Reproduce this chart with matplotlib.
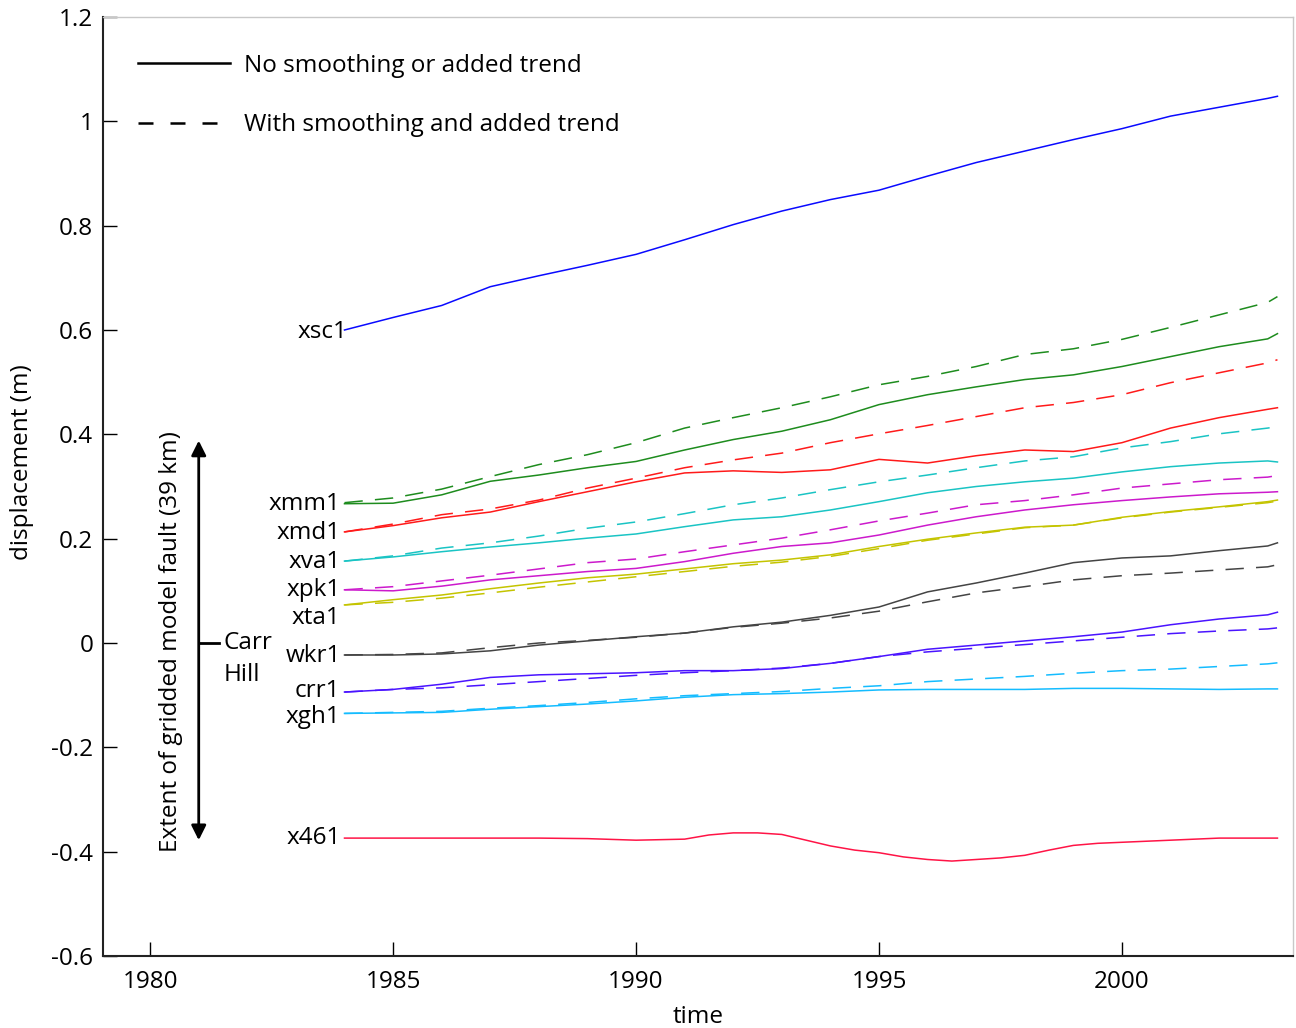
import matplotlib
matplotlib.use("Agg")
import matplotlib.pyplot as plt
from matplotlib.lines import Line2D

plt.rcParams['font.family'] = ['Open Sans', 'DejaVu Sans']

years = [1984, 1985, 1986, 1987, 1988, 1989, 1990, 1991, 1992, 1993, 1994,
         1995, 1996, 1997, 1998, 1999, 2000, 2001, 2002, 2003, 2003.2]

xsc1 = [0.600, 0.624, 0.647, 0.683, 0.704, 0.724, 0.745, 0.773, 0.802, 0.828, 0.850,
        0.868, 0.895, 0.921, 0.943, 0.965, 0.986, 1.010, 1.027, 1.044, 1.048]

xmm1_raw = [0.267, 0.268, 0.284, 0.310, 0.322, 0.336, 0.348, 0.370, 0.390, 0.406, 0.428,
            0.457, 0.476, 0.491, 0.505, 0.514, 0.530, 0.549, 0.568, 0.583, 0.593]
xmm1_smooth = [0.269, 0.278, 0.295, 0.319, 0.342, 0.361, 0.384, 0.412, 0.432, 0.451, 0.472,
               0.495, 0.511, 0.530, 0.553, 0.564, 0.582, 0.605, 0.629, 0.653, 0.664]

xmd1_raw = [0.213, 0.225, 0.240, 0.251, 0.271, 0.290, 0.309, 0.326, 0.330, 0.327, 0.332,
            0.352, 0.345, 0.359, 0.370, 0.367, 0.384, 0.412, 0.432, 0.448, 0.451]
xmd1_smooth = [0.213, 0.228, 0.246, 0.257, 0.274, 0.297, 0.316, 0.336, 0.351, 0.364, 0.384,
               0.401, 0.417, 0.434, 0.451, 0.461, 0.476, 0.499, 0.518, 0.537, 0.543]

xva1_raw = [0.157, 0.165, 0.175, 0.184, 0.192, 0.201, 0.209, 0.223, 0.236, 0.242, 0.255,
            0.271, 0.288, 0.300, 0.309, 0.316, 0.328, 0.338, 0.345, 0.349, 0.347]
xva1_smooth = [0.157, 0.167, 0.182, 0.192, 0.205, 0.220, 0.232, 0.248, 0.265, 0.278, 0.294,
               0.309, 0.322, 0.336, 0.349, 0.357, 0.374, 0.386, 0.401, 0.412, 0.415]

xpk1_raw = [0.102, 0.100, 0.109, 0.121, 0.129, 0.137, 0.143, 0.156, 0.172, 0.185, 0.192,
            0.207, 0.226, 0.242, 0.255, 0.265, 0.273, 0.280, 0.286, 0.289, 0.290]
xpk1_smooth = [0.102, 0.108, 0.119, 0.130, 0.142, 0.154, 0.161, 0.175, 0.188, 0.201, 0.217,
               0.234, 0.249, 0.265, 0.273, 0.284, 0.297, 0.305, 0.313, 0.318, 0.321]

xta1_raw = [0.073, 0.083, 0.092, 0.104, 0.115, 0.125, 0.132, 0.142, 0.152, 0.159, 0.169,
            0.185, 0.199, 0.211, 0.222, 0.226, 0.241, 0.252, 0.261, 0.271, 0.274]
xta1_smooth = [0.073, 0.078, 0.086, 0.096, 0.107, 0.117, 0.127, 0.137, 0.147, 0.155, 0.166,
               0.181, 0.197, 0.209, 0.221, 0.226, 0.240, 0.251, 0.260, 0.269, 0.272]

wkr1_raw = [-0.023, -0.023, -0.021, -0.015, -0.004, 0.004, 0.012, 0.019, 0.031, 0.040, 0.053,
            0.069, 0.098, 0.115, 0.134, 0.154, 0.163, 0.167, 0.177, 0.186, 0.192]
wkr1_smooth = [-0.023, -0.022, -0.019, -0.009, 0.000, 0.005, 0.011, 0.019, 0.030, 0.038, 0.048,
               0.061, 0.079, 0.096, 0.108, 0.121, 0.129, 0.134, 0.140, 0.146, 0.150]

crr1_raw = [-0.094, -0.089, -0.079, -0.066, -0.061, -0.059, -0.057, -0.053, -0.053, -0.049, -0.039,
            -0.026, -0.012, -0.004, 0.004, 0.012, 0.021, 0.035, 0.046, 0.054, 0.059]
crr1_smooth = [-0.094, -0.089, -0.086, -0.080, -0.074, -0.068, -0.062, -0.057, -0.053, -0.048, -0.039,
               -0.026, -0.017, -0.010, -0.003, 0.004, 0.011, 0.018, 0.023, 0.027, 0.029]

xgh1_raw = [-0.135, -0.134, -0.133, -0.127, -0.122, -0.117, -0.111, -0.104, -0.099, -0.097, -0.094,
            -0.090, -0.089, -0.089, -0.089, -0.087, -0.087, -0.088, -0.089, -0.088, -0.088]
xgh1_smooth = [-0.135, -0.133, -0.131, -0.125, -0.120, -0.114, -0.107, -0.101, -0.097, -0.093, -0.087,
               -0.082, -0.074, -0.069, -0.064, -0.058, -0.053, -0.050, -0.045, -0.040, -0.038]

years_x461 = [1984, 1985, 1986, 1987, 1988, 1989, 1990, 1991, 1991.5, 1992, 1992.5, 1993,
              1993.5, 1994, 1994.5, 1995, 1995.5, 1996, 1996.5, 1997, 1997.5, 1998, 1998.5,
              1999, 1999.5, 2000, 2001, 2002, 2003, 2003.2]
x461 = [-0.374, -0.374, -0.374, -0.374, -0.374, -0.375, -0.378, -0.376, -0.368, -0.364, -0.364,
        -0.367, -0.378, -0.389, -0.397, -0.402, -0.410, -0.415, -0.418, -0.415, -0.412, -0.407,
        -0.397, -0.388, -0.384, -0.382, -0.378, -0.374, -0.374, -0.374]

station_names = ['xsc1', 'xmm1', 'xmd1', 'xva1', 'xpk1', 'xta1', 'wkr1', 'crr1', 'xgh1', 'x461']
label_y = [0.597, 0.267, 0.211, 0.155, 0.102, 0.048, -0.025, -0.092, -0.142, -0.374]

yticks = [-0.6, -0.4, -0.2, 0, 0.2, 0.4, 0.6, 0.8, 1.0, 1.2]
ytick_labels = ['-0.6', '-0.4', '-0.2', '0', '0.2', '0.4', '0.6', '0.8', '1', '1.2']
xticks = [1980, 1985, 1990, 1995, 2000]
xtick_labels = ['1980', '1985', '1990', '1995', '2000']

colors = {
    'xsc1': '#0a0aff', 'xmm1': '#1e8c1e', 'xmd1': '#ff1a1a', 'xva1': '#1ac4c4',
    'xpk1': '#cc1acc', 'xta1': '#c4c400', 'wkr1': '#444444', 'crr1': '#4a14ff',
    'xgh1': '#14bcff', 'x461': '#ff1446',
}

FS = 17.5

fig = plt.figure(figsize=(12.96, 10.28), dpi=100)
ax = fig.add_axes([103/1296, 1 - 956/1028, 1190/1296, 939/1028])

lw = 1.1
dash = (0, (12, 8))

pairs = [('xmm1', xmm1_raw, xmm1_smooth), ('xmd1', xmd1_raw, xmd1_smooth),
         ('xva1', xva1_raw, xva1_smooth), ('xpk1', xpk1_raw, xpk1_smooth),
         ('xta1', xta1_raw, xta1_smooth), ('wkr1', wkr1_raw, wkr1_smooth),
         ('crr1', crr1_raw, crr1_smooth), ('xgh1', xgh1_raw, xgh1_smooth)]

ax.plot(years, xsc1, color=colors['xsc1'], lw=lw)
for name, raw, sm in pairs:
    ax.plot(years, sm, color=colors[name], lw=lw, linestyle=dash)
    ax.plot(years, raw, color=colors[name], lw=lw)
ax.plot(years_x461, x461, color=colors['x461'], lw=lw)

for name, yv in zip(station_names, label_y):
    xpos = 1984.05 if name == 'xsc1' else 1983.92
    ax.text(xpos, yv, name, ha='right', va='center', fontsize=FS)

# extent arrow
ax.annotate('', xy=(1981, 0.388), xytext=(1981, -0.378),
            arrowprops=dict(arrowstyle='<|-|>', color='black', lw=2,
                            mutation_scale=22, shrinkA=0, shrinkB=0))
ax.plot([1981, 1981.42], [0, 0], color='black', lw=2)
ax.text(1981.52, 0.0, 'Carr', ha='left', va='center', fontsize=FS)
ax.text(1981.52, -0.061, 'Hill', ha='left', va='center', fontsize=FS)
ax.text(1980.42, 0.002, 'Extent of gridded model fault (39 km)', rotation=90,
        ha='center', va='center', fontsize=FS)

# legend
h1 = Line2D([], [], color='black', lw=1.8)
h2 = Line2D([], [], color='black', lw=1.8, linestyle=(0, (6, 6.8)))
ax.legend([h1, h2], ['No smoothing or added trend', 'With smoothing and added trend'],
          loc='upper left', bbox_to_anchor=(0.011, 0.984), frameon=False, fontsize=FS,
          handlelength=3.8, handletextpad=0.58, labelspacing=1.45)

ax.set_xlim(1979.03, 2003.52)
ax.set_ylim(-0.6, 1.2)
ax.set_xticks(xticks)
ax.set_xticklabels(xtick_labels)
ax.set_yticks(yticks)
ax.set_yticklabels(ytick_labels)
ax.tick_params(direction='in', length=10, width=1, labelsize=FS, pad=7)
ax.tick_params(axis='x', pad=10)
ax.tick_params(top=False, right=False)

for s in ['left', 'bottom']:
    ax.spines[s].set_color('#222222')
    ax.spines[s].set_linewidth(1.5)
for s in ['top', 'right']:
    ax.spines[s].set_color('#c8c8c8')
    ax.spines[s].set_linewidth(1.0)

ax.set_xlabel('time', fontsize=FS, labelpad=8)
ax.set_ylabel('displacement (m)', fontsize=FS)
ax.yaxis.set_label_coords(-0.058, 0.526)

fig.savefig('out.png', dpi=100)
